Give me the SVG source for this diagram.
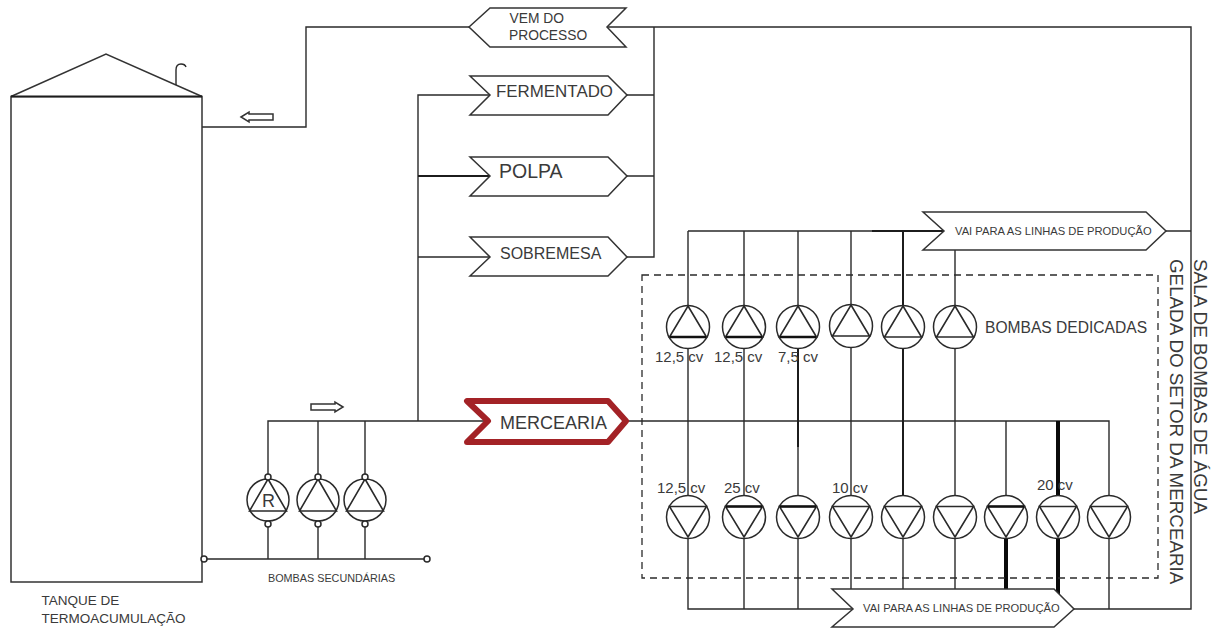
<svg xmlns="http://www.w3.org/2000/svg" width="1217" height="628" viewBox="0 0 1217 628">
<style>
text{font-family:"Liberation Sans",Arial,sans-serif;fill:#3a3a3a}
.ln{fill:none;stroke:#2a2a2a;stroke-width:1.4}
.mid{fill:none;stroke:#1c1c1c;stroke-width:2}
.hv{fill:none;stroke:#0a0a0a;stroke-width:4}
.sh{fill:#fff;stroke:#333;stroke-width:1.5;stroke-linejoin:miter}
.sym{fill:#fff;stroke:#2a2a2a;stroke-width:1.5}
.tri{fill:none;stroke:#2a2a2a;stroke-width:1.6}
.base{stroke:#111;stroke-width:2.4}
</style>
<defs>
<g id="up"><circle class="sym" r="21.5"/><path class="tri" d="M0-21L18.5 10H-18.5Z"/></g>
<g id="down"><circle class="sym" r="21.5"/><path class="tri" d="M0 20L18.5-10.5H-18.5Z"/></g>
<g id="sec"><ellipse class="sym" rx="21" ry="21"/><path class="tri" d="M0-21L18.5 11H-18.5Z"/><circle class="sym" cy="-23" r="3"/><circle class="sym" cy="24" r="3"/></g>
</defs>

<g id="connectors">
<path class="ln" d="M469 27H306V127H202"/>
<path class="ln" d="M607 27H1191V609H1074"/>
<path class="ln" d="M654 27V257H627M627 95H654M627 176H654"/>
<path class="ln" d="M490 95H418V421M418 257H490"/>
<path class="mid" d="M418 176H490"/>
<path class="ln" d="M268 476V421H490M318 476V421M365 476V421"/>
<path class="ln" d="M204 559H427M268 526V559M318 526V559M365 526V559"/>
<path class="ln" d="M628 421H1109V496M1006 421V496"/>
<path class="ln" d="M688 231H872M688 231V306M744 231V306M798 231V306M851 231V306M1166 231H1191M955 250V306"/>
<path class="mid" d="M872 231H944"/>
<path class="ln" d="M688 348V496M744 348V496M798 447V496M851 348V496M955 348V496"/>
<path class="mid" d="M903 231V306M903 348V496M798 348V447"/>
<path class="hv" d="M1058 421V496"/>
<path class="ln" d="M688 538V609H853M744 538V609M798 538V609M851 538V589M903 538V589M955 538V589M1109 538V609"/>
<path class="hv" d="M1006 538V591M1058 538V594"/>
</g>

<g id="tank">
<path class="sh" d="M11 96.5H202V582H11Z"/>
<path class="sh" d="M11 96.5L106 54L202 96.5"/>
<path class="mid" d="M11 96.5H202"/>
<path class="ln" d="M176 85V70Q176 64 181 64Q185 64 186 67"/>
<text x="41.5" y="605" font-size="13.5">TANQUE DE</text>
<text x="41.5" y="623" font-size="13.5">TERMOACUMULAÇÃO</text>
</g>

<g id="arrow-return"><path class="sh" d="M241 117L249 112V114H273V120H249V122Z"/></g>
<g id="arrow-supply"><path class="sh" d="M343 407L335 402V404H311V410H335V412Z"/></g>

<g id="vem-do-processo"><path class="sh" d="M469 27L490 8H626L607 27L626 47H490Z"/>
<text x="509.5" y="23" font-size="13.8">VEM DO</text><text x="509" y="40" font-size="13.8">PROCESSO</text></g>
<g id="fermentado"><path class="sh" d="M470 76H608L627 95L608 115H470L490 95Z"/><text x="496" y="97" font-size="16.9">FERMENTADO</text></g>
<g id="polpa"><path class="sh" d="M470 157H608L627 176L608 196H470L490 176Z"/><text x="499" y="178" font-size="19.5">POLPA</text></g>
<g id="sobremesa"><path class="sh" d="M470 237H608L627 257L608 276H470L490 257Z"/><text x="500" y="259" font-size="16">SOBREMESA</text></g>
<g id="mercearia"><path d="M467 401H608L626 421L608 442H467L488 421Z" fill="#fff" stroke="#a32226" stroke-width="6" stroke-linejoin="round"/><text x="500" y="429" font-size="18">MERCEARIA</text></g>
<g id="vai-superior"><path class="sh" d="M923 212H1146L1166 231L1146 250H923L944 231Z"/><text x="955" y="235" font-size="11.2">VAI PARA AS LINHAS DE PRODUÇÃO</text></g>
<g id="vai-inferior"><path class="sh" d="M832 589H1054L1074 609L1054 627H832L853 609Z"/><text x="863" y="612" font-size="11.2">VAI PARA AS LINHAS DE PRODUÇÃO</text></g>

<g id="bombas-secundarias">
<g id="sec-1"><use href="#sec" x="268" y="500"/><text x="262" y="507" font-size="18">R</text></g>
<g id="sec-2"><use href="#sec" x="318" y="500"/></g>
<g id="sec-3"><use href="#sec" x="365" y="500"/></g>
<circle class="sym" cx="204" cy="559" r="3"/><circle class="sym" cx="427" cy="559" r="3"/>
<text x="268" y="582" font-size="10.8">BOMBAS SECUNDÁRIAS</text>
</g>

<g id="bombas-dedicadas">
<rect x="642" y="275" width="516" height="303" fill="none" stroke="#2a2a2a" stroke-width="1.3" stroke-dasharray="7 5"/>
<g id="ded-1"><use href="#up" x="688" y="327"/><path class="base" d="M670 337H706"/></g>
<g id="ded-2"><use href="#up" x="744" y="327"/><path class="base" d="M726 337H762"/></g>
<g id="ded-3"><use href="#up" x="798" y="327"/><path class="base" d="M780 337H816"/></g>
<g id="ded-4"><use href="#up" x="851" y="326"/></g>
<g id="ded-5"><use href="#up" x="903" y="327"/></g>
<g id="ded-6"><use href="#up" x="955" y="327"/></g>
<text x="985" y="333" font-size="15.6">BOMBAS DEDICADAS</text>
<g id="low-1"><use href="#down" x="688" y="517"/></g>
<g id="low-2"><use href="#down" x="744" y="517"/><path class="base" d="M726 506.500H762"/></g>
<g id="low-3"><use href="#down" x="798" y="517"/><path class="base" d="M780 506.500H816"/></g>
<g id="low-4"><use href="#down" x="851" y="517"/></g>
<g id="low-5"><use href="#down" x="903" y="517"/></g>
<g id="low-6"><use href="#down" x="955" y="517"/></g>
<g id="low-7"><use href="#down" x="1006" y="517"/><path class="base" d="M988 506.500H1024"/></g>
<g id="low-8"><use href="#down" x="1058" y="517"/></g>
<g id="low-9"><use href="#down" x="1109" y="517"/></g>
<text x="655" y="362" font-size="15">12,5 cv</text>
<text x="714" y="362" font-size="15">12,5 cv</text>
<text x="778" y="362" font-size="15">7,5 cv</text>
<text x="657" y="493" font-size="15">12,5 cv</text>
<text x="724" y="493" font-size="15">25 cv</text>
<text x="832" y="493" font-size="15">10 cv</text>
<text x="1037" y="490" font-size="15">20 cv</text>
</g>

<g id="titulo">
<text transform="translate(1194 259) rotate(90)" font-size="18.9">SALA DE BOMBAS DE ÁGUA</text>
<text transform="translate(1170 259) rotate(90)" font-size="18.8">GELADA DO SETOR DA MERCEARIA</text>
</g>
</svg>
